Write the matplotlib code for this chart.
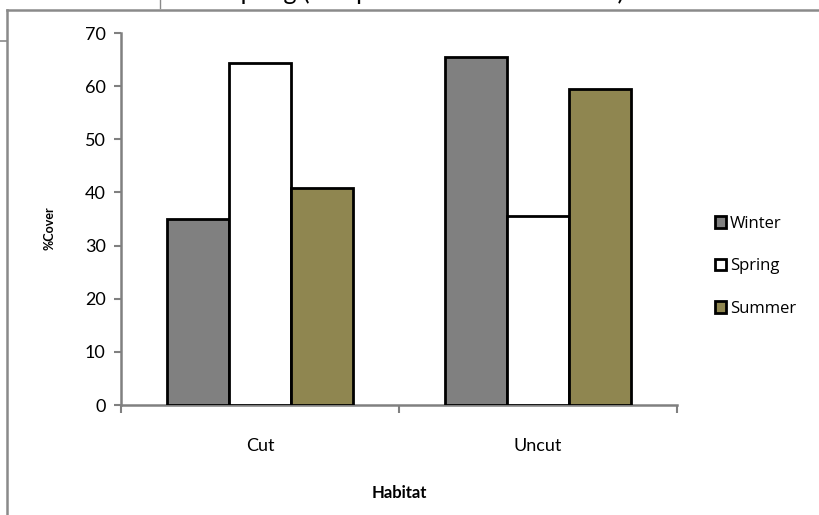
import matplotlib
matplotlib.use("Agg")
import matplotlib.pyplot as plt
import numpy as np

habitats = ["Cut", "Uncut"]
seasons = ["Winter", "Spring", "Summer"]
winter = [35.0, 65.5]
spring = [64.4, 35.6]
summer = [40.8, 59.5]
yticks = [0, 10, 20, 30, 40, 50, 60, 70]

colors = ["#808080", "#ffffff", "#8f8650"]
plt.rcParams["font.family"] = ["Lato", "DejaVu Sans"]

W, H = 819, 515
fig = plt.figure(figsize=(W / 100, H / 100), dpi=100)

# axes box in pixel coords
x0, x1, ytop, ybot = 121, 677, 33, 405
ax = fig.add_axes([x0 / W, (H - ybot) / H, (x1 - x0) / W, (ybot - ytop) / H])

x = np.arange(len(habitats))
bw = 1 / 4.5
for i, (name, vals) in enumerate(zip(seasons, [winter, spring, summer])):
    ax.bar(x + (i - 1) * bw, vals, bw, color=colors[i], edgecolor="black",
           linewidth=2.0, label=name, zorder=3)

ax.set_xlim(-0.5, 1.5)
ax.set_ylim(0, 70)
ax.set_yticks(yticks)
ax.tick_params(axis="y", direction="out", length=5, width=1.5, color="#808080",
               labelsize=13, pad=6)
ax.set_xticks([-0.5, 0.5, 1.5])
ax.set_xticklabels([])
ax.tick_params(axis="x", which="major", direction="out", length=6, width=1.5,
               color="#808080")
ax.set_xticks(x, minor=True)
ax.set_xticklabels(habitats, minor=True, fontsize=13)
ax.tick_params(axis="x", which="minor", length=0, pad=24)

for s in ["top", "right"]:
    ax.spines[s].set_visible(False)
for s in ["left", "bottom"]:
    ax.spines[s].set_color("#808080")
    ax.spines[s].set_linewidth(1.8)

ax.set_xlabel("Habitat", fontsize=12, fontweight="bold", labelpad=22)
fig.text(50 / W, 1 - 228 / H, "%Cover", rotation=90, fontsize=9,
         fontweight="bold", ha="center", va="center")

leg = fig.legend(loc="upper left", bbox_to_anchor=(708 / W, 1 - 209 / H),
                 frameon=False, prop={"family": "Open Sans", "size": 12},
                 handlelength=0.7, handleheight=0.7,
                 handletextpad=0.2, labelspacing=1.6, borderaxespad=0)

# outer frame and partly hidden title
fig.add_artist(plt.Line2D([7 / W, 7 / W], [0, 1 - 10 / H], color="#8a8a8a", lw=1.8))
fig.add_artist(plt.Line2D([7 / W, 1], [1 - 10 / H, 1 - 10 / H], color="#8a8a8a", lw=1.8))
fig.add_artist(plt.Line2D([0, 7 / W], [1 - 41 / H, 1 - 41 / H], color="#8a8a8a", lw=1.2))
fig.add_artist(plt.Line2D([160 / W, 160 / W], [1 - 8 / H, 1], color="#8a8a8a", lw=1))
fig.text(227 / W, 1 + 0.5 / H, "Spring (Samples taken in late March)", fontsize=18,
         va="baseline", ha="left")

fig.savefig("out.png", dpi=100, facecolor="white")
